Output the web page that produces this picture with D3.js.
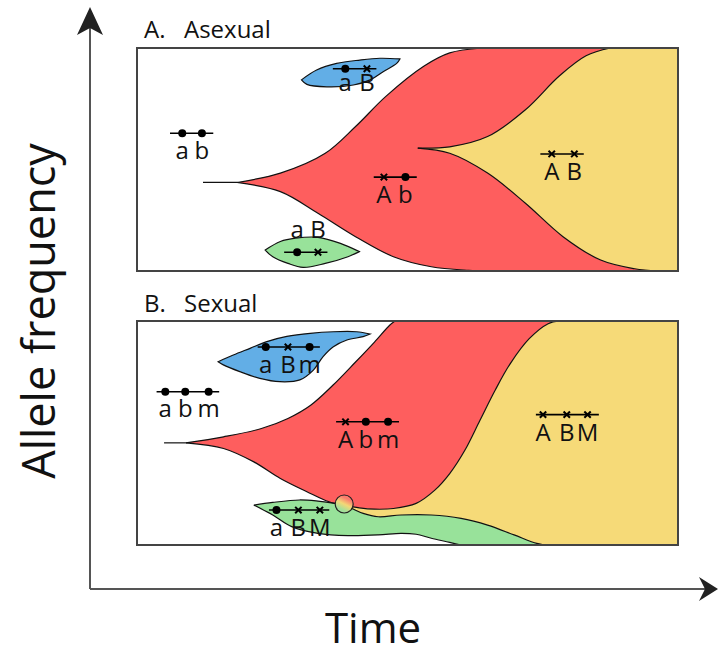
<!DOCTYPE html>
<html><head><meta charset="utf-8">
<script src="https://cdn.jsdelivr.net/npm/d3@7"></script>
<style>
html,body{margin:0;padding:0;background:#fff;}
text{font-family:"Open Sans","Noto Sans",sans-serif;}
</style></head>
<body><svg id="chart" width="718" height="655"></svg>
<script>
// ---------- data (time 0-100 across panel, allele frequency 0-1) ----------
const panelLetters = ["A.", "B."];
const panelNames = ["Asexual", "Sexual"];
const axisLabels = ["Allele frequency", "Time"];

// Panel A (asexual)
const asexAncestorLine = [[12.2, 0.397], [18.5, 0.397]];
const asexRedTop = [[18.5,0.397],[26.5,0.439],[34.8,0.528],[40.4,0.648],[46.0,0.783],[53.0,0.918],[57.8,0.978],[63.8,1]];
const asexRedBottom = [[18.5,0.397],[26.5,0.356],[33.45,0.259],[40.4,0.154],[47.4,0.064],[54.4,0.019],[61.3,0.003],[64.5,0]];
const asexYellowTop = [[51.9,0.551],[57.8,0.557],[64.8,0.603],[71.8,0.723],[78.0,0.873],[83.0,0.965],[87.5,1]];
const asexYellowBottom = [[51.9,0.551],[57.8,0.528],[64.8,0.439],[71.8,0.304],[78.75,0.154],[85.7,0.049],[92,0.01],[96.2,0]];
const asexBlueTop = [[30.4,0.857],[33.2,0.901],[36.9,0.931],[41.2,0.946],[44.9,0.954],[48.6,0.951]];
const asexBlueBottom = [[48.6,0.951],[48.0,0.931],[45.5,0.894],[43.1,0.857],[40.0,0.834],[35.1,0.826],[31.4,0.837],[30.4,0.857]];
const asexGreenTop = [[23.7,0.094],[26.5,0.132],[29.3,0.147],[33.45,0.151],[37.6,0.124],[41.1,0.087]];
const asexGreenBottom = [[41.1,0.087],[39.0,0.064],[34.8,0.034],[30.7,0.016],[27.9,0.034],[25.1,0.064],[23.7,0.094]];
const asexGenotypes = [
  {t0:6.1, t1:14.1, f:0.618, textF:0.503, loci:[[8.36,"dot","a"],[12.0,"dot","b"]]},
  {t0:36.2, t1:44.25, f:0.907, textF:0.805, loci:[[38.5,"dot","a"],[42.5,"x","B"]]},
  {t0:27.2, t1:35.2, f:0.084, textF:0.147, loci:[[29.6,"dot","a"],[33.45,"x","B"]]},
  {t0:43.76, t1:51.71, f:0.421, textF:0.307, loci:[[45.64,"x","A"],[49.62,"dot","b"]]},
  {t0:74.56, t1:82.58, f:0.525, textF:0.409, loci:[[76.66,"x","A"],[80.84,"x","B"]]}
];

// Panel B (sexual)
const sexAncestorLine = [[5.0, 0.456], [9.06, 0.456]];
const sexRedTop = [[9.06,0.456],[16.0,0.483],[23.0,0.52],[27.9,0.565],[32.1,0.624],[36.2,0.713],[40.4,0.817],[43.9,0.906],[46.7,0.981],[47.7,1]];
const sexRedLow = [[9.06,0.456],[16.0,0.431],[21.6,0.371],[26.5,0.297],[31.4,0.238],[35.5,0.193],[38.3,0.178]];
const sexRedYellow = [[38.3,0.178],[41.1,0.166],[43.9,0.16],[47.4,0.163],[51.6,0.186],[55.05,0.245],[57.8,0.319],[60.6,0.423],[63.4,0.557],[66.2,0.691],[69.0,0.81],[72.5,0.921],[76.0,0.988],[78.05,1]];
const sexGreenTop = [[21.6,0.178],[25.1,0.19],[30.0,0.201],[33.45,0.196],[36.6,0.186],[38.3,0.178],[39.7,0.163],[41.8,0.141],[44.6,0.126],[48.8,0.134],[54.4,0.134],[59.9,0.119],[64.8,0.089],[69.7,0.045],[73.9,0.007],[75.3,0]];
const sexGreenBottom = [[21.6,0.178],[25.1,0.134],[28.6,0.082],[33.45,0.052],[39.0,0.042],[44.6,0.045],[48.8,0.052],[51.6,0.048],[54.4,0.03],[57.8,0.012],[59.9,0]];
const sexBlueTop = [[15.0,0.818],[17.8,0.848],[20.9,0.878],[24.0,0.908],[27.7,0.931],[32.0,0.945],[36.3,0.952],[40.6,0.952],[43.1,0.942]];
const sexBlueBottom = [[43.1,0.942],[41.8,0.93],[38.8,0.915],[36.3,0.885],[34.4,0.841],[32.6,0.781],[30.1,0.737],[26.4,0.729],[22.7,0.744],[19.0,0.774],[15.95,0.804],[15.0,0.818]];
const sexRecombination = [38.3, 0.183];
const sexGenotypes = [
  {t0:3.62, t1:15.19, f:0.684, textF:0.572, loci:[[5.23,"dot","a"],[8.92,"dot","b"],[13.24,"dot","m"]]},
  {t0:22.3, t1:33.8, f:0.884, textF:0.770, loci:[[23.8,"dot","a"],[27.9,"x","B"],[31.9,"dot","m"]]},
  {t0:36.8, t1:48.43, f:0.550, textF:0.431, loci:[[38.54,"x","A"],[42.3,"dot","b"],[46.41,"dot","m"]]},
  {t0:73.73, t1:85.37, f:0.582, textF:0.464, loci:[[75.05,"x","A"],[79.44,"x","B"],[83.28,"x","M"]]},
  {t0:24.39, t1:35.54, f:0.156, textF:0.042, loci:[[25.78,"dot","a"],[29.83,"x","B"],[33.8,"x","M"]]}
];

// ---------- styles ----------
const RED = "#fe5e5e", YELLOW = "#f6da78", BLUE = "#62aee6", GREEN = "#98e29a";

const svg = d3.select("#chart");
const x = d3.scaleLinear().domain([0, 100]).range([137, 678]);
const yA = d3.scaleLinear().domain([0, 1]).range([271, 48]);
const yB = d3.scaleLinear().domain([0, 1]).range([545, 321]);

function seg(pts, y) {
  return d3.line().x(d => x(d[0])).y(d => y(d[1])).curve(d3.curveCatmullRom.alpha(0.5))(pts);
}
function join(parts) {
  return parts.map((p, i) => i === 0 ? p : p.replace(/^M/, "L")).join("") + "Z";
}
const rev = a => a.slice().reverse();
function lin(pts, y) { return "M" + pts.map(d => x(d[0]) + "," + y(d[1])).join("L"); }

function area(g, d, fill) {
  g.append("path").attr("d", d).attr("fill", fill).attr("stroke", "none");
}
function outline(g, d) {
  g.append("path").attr("d", d).attr("fill", "none").attr("stroke", "#111").attr("stroke-width", 1.2);
}

function genotypes(g, list, y) {
  list.forEach(c => {
    g.append("line").attr("x1", x(c.t0)).attr("x2", x(c.t1)).attr("y1", y(c.f)).attr("y2", y(c.f))
      .attr("stroke", "#000").attr("stroke-width", 1.6);
    c.loci.forEach(([t, m, letter]) => {
      const cx = x(t), cy = y(c.f);
      if (m === "dot") {
        g.append("circle").attr("cx", cx).attr("cy", cy).attr("r", 4).attr("fill", "#000");
      } else {
        const s = 3.2;
        g.append("path").attr("d", `M${cx - s},${cy - s}L${cx + s},${cy + s}M${cx - s},${cy + s}L${cx + s},${cy - s}`)
          .attr("stroke", "#000").attr("stroke-width", 2);
      }
      g.append("text").attr("x", cx).attr("y", y(c.textF)).attr("text-anchor", "middle")
        .attr("font-size", 24).attr("fill", "#111").text(letter);
    });
  });
}

function box(g, y) {
  g.append("rect").attr("x", x(0)).attr("y", y(1)).attr("width", x(100) - x(0)).attr("height", y(0) - y(1))
    .attr("fill", "none").attr("stroke", "#444").attr("stroke-width", 2);
}

// ---------- Panel A ----------
const gA = svg.append("g");
area(gA, join([seg(asexRedTop, yA), lin([[100,1],[100,0]], yA), seg(rev(asexRedBottom), yA)]), RED);
area(gA, join([seg(asexYellowTop, yA), lin([[100,1],[100,0]], yA), seg(rev(asexYellowBottom), yA)]), YELLOW);
outline(gA, lin(asexAncestorLine, yA));
outline(gA, seg(asexRedTop, yA));
outline(gA, seg(asexRedBottom, yA));
outline(gA, seg(asexYellowTop, yA));
outline(gA, seg(asexYellowBottom, yA));
const blueA = join([seg(asexBlueTop, yA), seg(asexBlueBottom, yA)]);
area(gA, blueA, BLUE); outline(gA, blueA);
const greenA = join([seg(asexGreenTop, yA), seg(asexGreenBottom, yA)]);
area(gA, greenA, GREEN); outline(gA, greenA);
genotypes(gA, asexGenotypes, yA);
box(gA, yA);

// ---------- Panel B ----------
const gB = svg.append("g");
area(gB, join([seg(sexRedTop, yB), lin([[47.7,1],[78.05,1]], yB), seg(rev(sexRedYellow), yB), seg(rev(sexRedLow), yB)]), RED);
area(gB, join([seg(sexRedYellow, yB), lin([[78.05,1],[100,1],[100,0],[75.3,0]], yB), seg(rev(sexGreenTop.filter(d => d[0] >= 38.3)), yB)]), YELLOW);
area(gB, join([seg(sexGreenTop, yB), lin([[75.3,0],[59.9,0]], yB), seg(rev(sexGreenBottom), yB)]), GREEN);
outline(gB, lin(sexAncestorLine, yB));
outline(gB, seg(sexRedTop, yB));
outline(gB, seg(sexRedLow, yB));
outline(gB, seg(sexRedYellow, yB));
outline(gB, seg(sexGreenTop, yB));
outline(gB, seg(sexGreenBottom, yB));
const blueB = join([seg(sexBlueTop, yB), seg(sexBlueBottom, yB)]);
area(gB, blueB, BLUE); outline(gB, blueB);
const grad = svg.append("defs").append("linearGradient").attr("id", "recomb")
  .attr("x1", "0.75").attr("y1", "0").attr("x2", "0.25").attr("y2", "1");
grad.append("stop").attr("offset", "0.2").attr("stop-color", "#fb7b6e");
grad.append("stop").attr("offset", "0.5").attr("stop-color", "#f3d776");
grad.append("stop").attr("offset", "0.8").attr("stop-color", "#a3e09a");
gB.append("circle").attr("cx", x(sexRecombination[0])).attr("cy", yB(sexRecombination[1])).attr("r", 9)
  .attr("fill", "url(#recomb)").attr("stroke", "#222").attr("stroke-width", 1.2);
genotypes(gB, sexGenotypes, yB);
box(gB, yB);

// ---------- titles ----------
[[38, 0], [312, 1]].forEach(([ty, i]) => {
  const t = svg.append("text").attr("y", ty).attr("font-size", 24).attr("fill", "#111");
  t.append("tspan").attr("x", 144).text(panelLetters[i] + " ");
  t.append("tspan").attr("x", 184).text(" " + panelNames[i]);
});

// ---------- axes ----------
const ax = svg.append("g");
ax.append("path").attr("d", "M90,589L90,22M90,589L708,589").attr("fill", "none").attr("stroke", "#555").attr("stroke-width", 2);
ax.append("path").attr("d", "M90,7L103,35L90,28L77,35Z").attr("fill", "#222");
ax.append("path").attr("d", "M718,589L699,577L705,589L699,601Z").attr("fill", "#222");
svg.append("text").attr("transform", "translate(55,311) rotate(-90)").attr("text-anchor", "middle")
  .attr("font-size", 45).attr("fill", "#111").text(axisLabels[0]);
svg.append("text").attr("x", 373).attr("y", 643).attr("text-anchor", "middle")
  .attr("font-size", 42).attr("fill", "#111").text(axisLabels[1]);
</script></body></html>
